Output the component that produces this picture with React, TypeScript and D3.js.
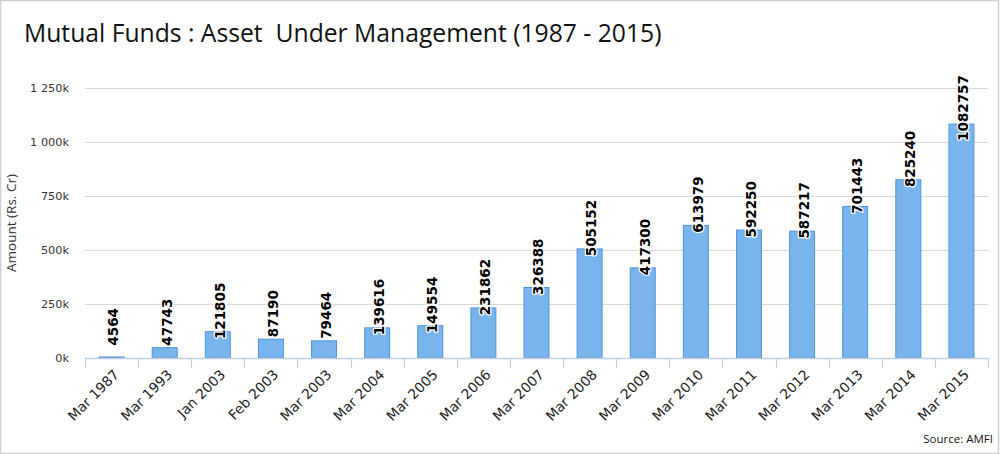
import React from "react";
import * as d3 from "d3";

const categories: string[] = [
  "Mar 1987", "Mar 1993", "Jan 2003", "Feb 2003", "Mar 2003", "Mar 2004",
  "Mar 2005", "Mar 2006", "Mar 2007", "Mar 2008", "Mar 2009", "Mar 2010",
  "Mar 2011", "Mar 2012", "Mar 2013", "Mar 2014", "Mar 2015",
];
const aumValues: number[] = [
  4564, 47743, 121805, 87190, 79464, 139616, 149554, 231862, 326388,
  505152, 417300, 613979, 592250, 587217, 701443, 825240, 1082757,
];
const yTicks: number[] = [0, 250000, 500000, 750000, 1000000, 1250000];
const yTickLabels: string[] = ["0k", "250k", "500k", "750k", "1 000k", "1 250k"];

const W = 1000;
const H = 454;
const plotLeft = 85;
const plotRight = 988;
const plotTop = 88;
const plotBottom = 358;

export default function App() {
  const x = d3.scaleBand<string>().domain(categories).range([plotLeft, plotRight]).padding(0);
  const y = d3.scaleLinear().domain([0, 1250000]).range([plotBottom, plotTop]);
  const bw = x.bandwidth() * 0.47;
  const boundaries = [...categories.map((c) => x(c) as number), plotRight];

  return (
    <svg
      width={W}
      height={H}
      style={{ position: "absolute", left: 0, top: 0, background: "#fff" }}
      fontFamily="'DejaVu Sans', Verdana, sans-serif"
    >
      <rect x={0.5} y={0.5} width={W - 2} height={H - 1} fill="#fff" stroke="#cfcfcf" strokeWidth={1.5} />
      <text x={24} y={42} fontFamily="'Open Sans', sans-serif" fontSize={24.7} fill="#111">
        Mutual Funds : Asset{"\u00a0"} Under Management (1987 - 2015)
      </text>

      {yTicks.map((t, i) => (
        <g key={t}>
          {i > 0 && (
            <line x1={plotLeft} x2={plotRight} y1={Math.round(y(t)) + 0.5} y2={Math.round(y(t)) + 0.5} stroke="#d8d8d8" strokeWidth={1} />
          )}
          <text x={69} y={y(t)} dy="0.35em" textAnchor="end" fontSize={11.3} fill="#333">
            {yTickLabels[i]}
          </text>
        </g>
      ))}

      <text
        transform={`translate(16,223) rotate(-90)`}
        textAnchor="middle"
        fontFamily="'Open Sans', sans-serif"
        fontSize={13.5}
        fill="#333"
      >
        Amount (Rs. Cr)
      </text>

      {categories.map((c, i) => {
        const cx = (x(c) as number) + x.bandwidth() / 2;
        const top = y(aumValues[i]);
        return (
          <rect
            key={c}
            x={cx - bw / 2}
            y={top}
            width={bw}
            height={plotBottom - top}
            fill="#7ab4ec"
            stroke="#4b93e3"
            strokeWidth={1}
          />
        );
      })}

      <line x1={plotLeft} x2={plotRight} y1={plotBottom + 0.5} y2={plotBottom + 0.5} stroke="#c0d0e0" strokeWidth={1.5} />
      {boundaries.map((bx, i) => (
        <line key={i} x1={Math.round(bx) + 0.5} x2={Math.round(bx) + 0.5} y1={plotBottom} y2={plotBottom + 10} stroke="#c0d0e0" strokeWidth={1.2} />
      ))}

      {categories.map((c, i) => {
        const cx = (x(c) as number) + x.bandwidth() / 2;
        const top = y(aumValues[i]);
        return (
          <text
            key={c}
            transform={`translate(${cx + 2},${top - 49}) rotate(-90)`}
            dy="0.36em"
            textAnchor="end"
            fontSize={13.5}
            fontWeight="bold"
            fill="#000"
            stroke="#fff"
            strokeWidth={2.5}
            strokeLinejoin="round"
            style={{ paintOrder: "stroke" }}
          >
            {aumValues[i]}
          </text>
        );
      })}

      {categories.map((c) => {
        const cx = (x(c) as number) + x.bandwidth() / 2;
        return (
          <text
            key={c}
            transform={`translate(${cx + 5},${plotBottom + 14}) rotate(-45)`}
            dy="0.35em"
            textAnchor="end"
            fontSize={13.8}
            fill="#222"
          >
            {c}
          </text>
        );
      })}

      <text x={993} y={443} textAnchor="end" fontFamily="'Open Sans', sans-serif" fontSize={11.5} fill="#111">
        Source: AMFI
      </text>
    </svg>
  );
}
